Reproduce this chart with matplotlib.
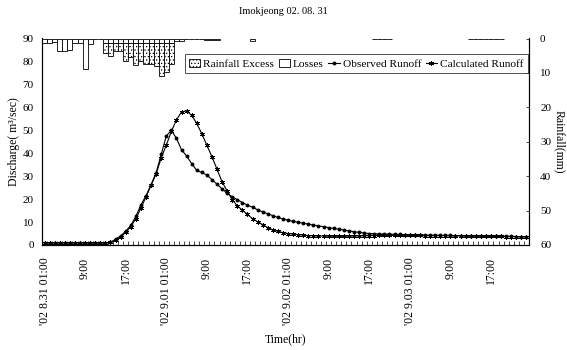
import numpy as np
import matplotlib.pyplot as plt
from matplotlib.ticker import MultipleLocator
from matplotlib.patches import Patch
from matplotlib.lines import Line2D

plt.rcParams['font.family'] = ['Liberation Serif', 'DejaVu Serif']
plt.rcParams['hatch.linewidth'] = 0.5

# hourly runoff (m3/sec), '02 8.31 01:00 .. 9.04 00:00
observed = [
    1.0, 1.0, 1.0, 1.0, 1.0, 1.0, 1.0, 1.0, 1.0, 1.0,
    1.0, 1.0, 1.0, 1.2, 2.5, 4.0, 6.0, 8.5, 12.5, 17.5,
    21.5, 26.3, 31.5, 39.5, 47.5, 50.0, 46.5, 41.5, 38.8, 35.5,
    32.5, 31.6, 30.5, 28.5, 26.5, 24.5, 22.5, 21.0, 19.8, 18.5,
    17.4, 16.4, 15.4, 14.4, 13.6, 12.8, 12.0, 11.4, 10.8, 10.3,
    9.9, 9.5, 9.1, 8.7, 8.3, 8.0, 7.6, 7.2, 6.9, 6.5,
    6.1, 5.8, 5.5, 5.2, 5.0, 4.9, 4.8, 4.75, 4.7, 4.65,
    4.6, 4.5, 4.45, 4.4, 4.35, 4.3, 4.3, 4.25, 4.2, 4.2,
    4.15, 4.1, 4.1, 4.05, 4.0, 4.0, 3.95, 3.9, 3.9, 3.85,
    3.8, 3.8, 3.75, 3.7, 3.65, 3.6]
calculated = [
    1.0, 1.0, 1.0, 1.0, 1.0, 1.0, 1.0, 1.0, 1.0, 1.0,
    1.0, 1.0, 1.0, 1.1, 2.0, 3.5, 5.5, 8.0, 11.5, 16.0,
    21.0, 26.0, 31.0, 38.0, 43.5, 49.5, 54.5, 58.0, 58.5, 56.5,
    53.0, 48.5, 43.5, 38.5, 33.0, 27.5, 23.5, 19.8, 17.0, 15.2,
    13.3, 11.5, 10.1, 8.9, 7.6, 6.6, 6.0, 5.4, 5.0, 4.8,
    4.5, 4.3, 4.1, 4.0, 3.9, 3.9, 3.85, 3.85, 3.8, 3.8,
    3.9, 3.9, 4.0, 4.0, 4.1, 4.1, 4.2, 4.2, 4.2, 4.2,
    4.2, 4.2, 4.2, 4.2, 4.2, 4.1, 4.1, 4.1, 4.1, 4.1,
    4.0, 4.0, 4.0, 4.0, 3.9, 3.9, 3.9, 3.9, 3.8, 3.8,
    3.8, 3.7, 3.7, 3.7, 3.6, 3.6]

# hourly rainfall (mm)
losses = [
    1.2, 1.2, 1.0, 3.5, 3.5, 3.3, 1.2, 1.2, 8.8, 1.5,
    0.2, 0.2, 1.3, 1.3, 1.2, 1.2, 1.3, 1.3, 1.2, 1.2,
    1.2, 1.2, 1.2, 1.2, 1.2, 1.2, 0.6, 0.6, 0.1, 0.1,
    0.1, 0.1, 0.5, 0.5, 0.5, 0, 0, 0, 0, 0,
    0, 0.8, 0, 0, 0, 0, 0, 0, 0, 0,
    0, 0, 0, 0, 0, 0, 0, 0, 0, 0,
    0, 0, 0, 0, 0, 0.1, 0.1, 0.1, 0.1, 0,
    0, 0, 0, 0, 0, 0, 0, 0, 0, 0,
    0, 0, 0, 0, 0.1, 0.1, 0.1, 0.1, 0.1, 0.1,
    0.1, 0, 0, 0, 0, 0]
excess = [
    0, 0, 0, 0, 0, 0, 0, 0, 0, 0,
    0, 0, 2.9, 3.7, 2.3, 2.3, 5.2, 4.2, 6.6, 5.3,
    6.1, 6.3, 6.8, 9.8, 8.6, 6.3] + [0] * 70

tick_labels = ["'02 8.31 01:00", "9:00", "17:00", "'02 9.01 01:00", "9:00", "17:00",
               "'02 9.02 01:00", "9:00", "17:00", "'02 9.03 01:00", "9:00", "17:00"]

fig = plt.figure(figsize=(5.67, 3.5), dpi=100)
ax = fig.add_axes([42 / 567, 1 - 245 / 350, 487 / 567, 206.5 / 350])
x = np.arange(len(observed))

ax.plot(x, observed, color='black', lw=0.8, marker='o', ms=1.8)
ax.plot(x, calculated, color='black', lw=0.8, marker=(6, 2, 0), ms=3.5, mew=0.6)
ax.set_xlim(-0.5, len(observed) - 0.5)
ax.set_ylim(0, 90)
ax.yaxis.set_major_locator(MultipleLocator(10))
ax.tick_params(axis='y', length=0, pad=6, labelsize=8)
ax.set_xticks(np.arange(0, len(observed), 8))
ax.set_xticklabels(tick_labels, rotation=90, fontsize=8.5)
ax.set_xticks(np.arange(-0.5, len(observed), 1), minor=True)
ax.tick_params(axis='x', which='major', length=0, pad=9)
ax.tick_params(axis='x', which='minor', direction='in', length=3, width=0.5)
ax.spines['top'].set_visible(False)
ax.set_xlabel('Time(hr)', fontsize=8.5, labelpad=6)
ax.set_ylabel('Discharge( m\u00b3/sec)', fontsize=8.5, labelpad=2)

ax2 = ax.twinx()
loss = np.array(losses)
exc = np.array(excess)
idx = np.nonzero(loss + exc)[0]
ax2.bar(idx, loss[idx], width=1.0, color='white', edgecolor='black', lw=0.6)
ei = np.nonzero(exc)[0]
ax2.bar(ei, exc[ei], bottom=loss[ei], width=1.0, color='white', edgecolor='black',
        lw=0.6, hatch='.....')
ax2.set_ylim(60, 0)
ax2.yaxis.set_major_locator(MultipleLocator(10))
ax2.tick_params(axis='y', direction='in', length=2, width=0.5, pad=8, labelsize=8)
ax2.spines['top'].set_visible(False)
ax2.set_ylabel('Rainfall(mm)', fontsize=8.5, rotation=270, labelpad=10)

handles = [
    Patch(facecolor='white', edgecolor='black', hatch='.....', lw=0.6),
    Patch(facecolor='white', edgecolor='black', lw=0.6),
    Line2D([], [], color='black', lw=0.8, marker='o', ms=1.8),
    Line2D([], [], color='black', lw=0.8, marker=(6, 2, 0), ms=3.5, mew=0.6),
]
leg = ax2.legend(handles, ['Rainfall Excess', 'Losses', 'Observed Runoff', 'Calculated Runoff'],
                 ncol=4, loc='upper right', bbox_to_anchor=(0.998, 0.925), fontsize=8.2,
                 frameon=True, fancybox=False, borderpad=0.4, handlelength=1.0,
                 handletextpad=0.25, columnspacing=0.4, borderaxespad=0)
leg.get_frame().set_edgecolor('black')
leg.get_frame().set_linewidth(0.6)

fig.text(0.5, 1 - 12 / 350, 'Imokjeong 02. 08. 31', ha='center', va='center', fontsize=7.5)

fig.savefig('out.png', dpi=100)
